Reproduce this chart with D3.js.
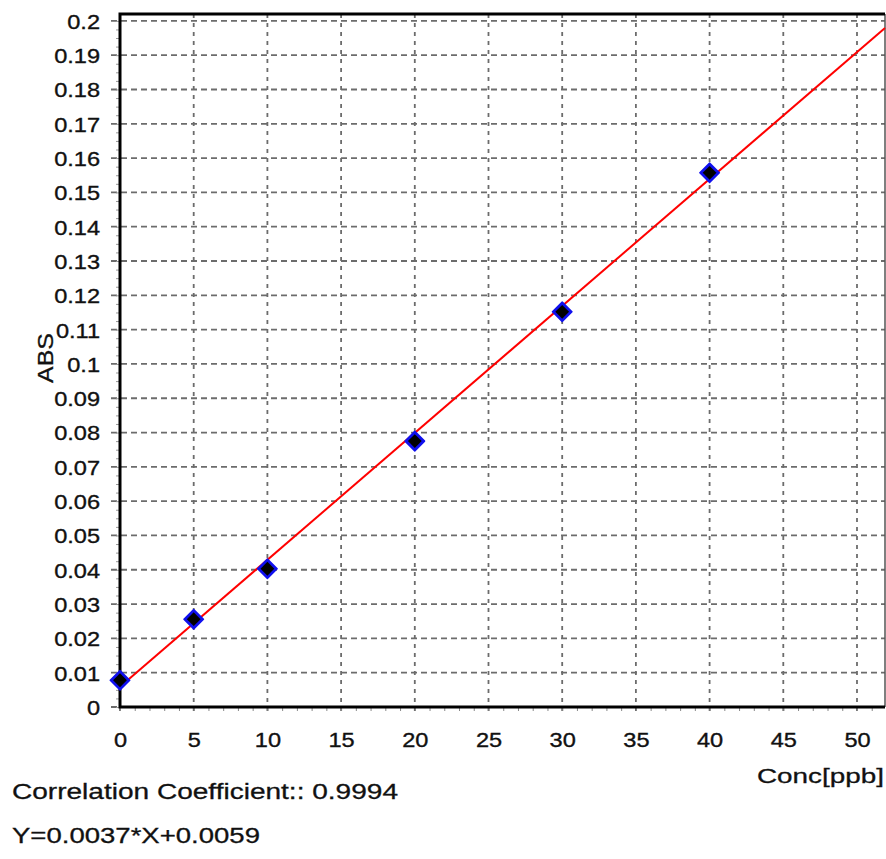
<!DOCTYPE html>
<html>
<head>
<meta charset="utf-8">
<script src="https://cdn.jsdelivr.net/npm/d3@7"></script>
<style>
  body { margin: 0; background: #fff; }
  text { font-family: "Liberation Sans", Arial, sans-serif; fill: #111; }
</style>
</head>
<body>
<svg id="chart" width="886" height="859"></svg>
<script>
// calibration points
var concValues = [0, 5, 10, 20, 30, 40];
var absValues = [0.0078, 0.0256, 0.0403, 0.0775, 0.1152, 0.1557];
var xTicks = [0, 5, 10, 15, 20, 25, 30, 35, 40, 45, 50];
var yTicks = [0, 0.01, 0.02, 0.03, 0.04, 0.05, 0.06, 0.07, 0.08, 0.09, 0.1,
              0.11, 0.12, 0.13, 0.14, 0.15, 0.16, 0.17, 0.18, 0.19, 0.2];
var slope = 0.0037, intercept = 0.0059;
var corrCoef = "0.9994";

var svg = d3.select("#chart");
var plotLeft = 120, plotRight = 885, plotTop = 14, plotBottom = 707;
var stretch = 1.15;

var x = d3.scaleLinear().domain([0, 51.9]).range([plotLeft, plotRight]);
var y = d3.scaleLinear().domain([0, 0.202]).range([plotBottom, plotTop]);

// dashed grid
svg.append("g")
    .selectAll("line")
    .data(yTicks)
    .enter().append("line")
    .attr("x1", plotLeft - 9)
    .attr("x2", plotRight)
    .attr("y1", function(d) { return y(d); })
    .attr("y2", function(d) { return y(d); })
    .attr("stroke", "#6c6c6c")
    .attr("stroke-width", 1.8)
    .attr("stroke-dasharray", "6,4");

svg.append("g")
    .selectAll("line")
    .data(xTicks)
    .enter().append("line")
    .attr("x1", function(d) { return x(d); })
    .attr("x2", function(d) { return x(d); })
    .attr("y1", plotTop)
    .attr("y2", plotBottom + 9)
    .attr("stroke", "#6c6c6c")
    .attr("stroke-width", 1.8)
    .attr("stroke-dasharray", "4,5");

// minor ticks
svg.append("g")
    .attr("transform", "translate(0," + plotBottom + ")")
    .call(d3.axisBottom(x).tickValues(d3.range(0, 52, 1)).tickSize(4).tickFormat(""))
    .call(function(g) { g.select(".domain").remove(); })
    .selectAll("line").attr("stroke", "#888");

svg.append("g")
    .attr("transform", "translate(" + (plotLeft - 1) + ",0)")
    .call(d3.axisLeft(y).tickValues(d3.range(0, 0.2001, 0.0025)).tickSize(3).tickFormat(""))
    .call(function(g) { g.select(".domain").remove(); })
    .selectAll("line").attr("stroke", "#999");

// tick labels (the original font is a bit wider, so stretch it)
var yAxis = svg.append("g")
    .attr("transform", "translate(" + plotLeft + ",0)")
    .call(d3.axisLeft(y).tickValues(yTicks).tickSize(0).tickFormat(d3.format("~g")));
yAxis.select(".domain").remove();
yAxis.selectAll("text")
    .attr("font-size", 20.5)
    .attr("font-family", "Liberation Sans, Arial, sans-serif")
    .attr("fill", "#111")
    .attr("stroke", "#111")
    .attr("stroke-width", 0.35)
    .attr("x", -20 / stretch)
    .attr("dy", "0.36em")
    .attr("transform", "scale(" + stretch + ",1)");

var xAxis = svg.append("g")
    .attr("transform", "translate(0," + plotBottom + ")")
    .call(d3.axisBottom(x).tickValues(xTicks).tickSize(0));
xAxis.select(".domain").remove();
xAxis.selectAll("text")
    .attr("font-size", 20.5)
    .attr("font-family", "Liberation Sans, Arial, sans-serif")
    .attr("fill", "#111")
    .attr("stroke", "#111")
    .attr("stroke-width", 0.35)
    .attr("y", 40)
    .attr("dy", 0)
    .attr("transform", "scale(" + stretch + ",1)");

// frame
svg.append("line")
    .attr("x1", plotRight).attr("x2", plotRight)
    .attr("y1", plotTop).attr("y2", plotBottom)
    .attr("stroke", "#555").attr("stroke-width", 1.5);
svg.append("path")
    .attr("d", "M" + plotRight + "," + plotTop + "H" + plotLeft + "V" + plotBottom + "H" + plotRight)
    .attr("fill", "none")
    .attr("stroke", "#000")
    .attr("stroke-width", 3);

// fitted line
var fitX = [0, 51.9];
svg.append("path")
    .datum(fitX)
    .attr("fill", "none")
    .attr("stroke", "#f00")
    .attr("stroke-width", 2)
    .attr("d", d3.line()
        .x(function(d) { return x(d); })
        .y(function(d) { return y(slope * d + intercept); }));

// markers
var pts = concValues.map(function(c, i) { return [c, absValues[i]]; });
var marks = svg.append("g")
    .selectAll("g")
    .data(pts)
    .enter().append("g")
    .attr("transform", function(d) { return "translate(" + x(d[0]) + "," + y(d[1]) + ") rotate(45)"; });
marks.append("path")
    .attr("d", d3.symbol(d3.symbolSquare, 190))
    .attr("fill", "#1010ee")
    .attr("stroke", "#1010ee")
    .attr("stroke-width", 1.5)
    .attr("stroke-linejoin", "round");
marks.append("path")
    .attr("d", d3.symbol(d3.symbolSquare, 95))
    .attr("fill", "#000");

// labels
var labelStyle = function(t) {
    t.attr("fill", "#111").attr("stroke", "#111").attr("stroke-width", 0.3);
};

svg.append("text")
    .attr("x", 884).attr("y", 783)
    .attr("text-anchor", "end")
    .attr("font-size", 21)
    .attr("textLength", 127)
    .attr("lengthAdjust", "spacingAndGlyphs")
    .call(labelStyle)
    .text("Conc[ppb]");

svg.append("text")
    .attr("transform", "translate(53,358) rotate(-90)")
    .attr("text-anchor", "middle")
    .attr("font-size", 22)
    .attr("textLength", 50)
    .attr("lengthAdjust", "spacingAndGlyphs")
    .call(labelStyle)
    .text("ABS");

svg.append("text")
    .attr("x", 12).attr("y", 799)
    .attr("font-size", 22)
    .attr("textLength", 386)
    .attr("lengthAdjust", "spacingAndGlyphs")
    .call(labelStyle)
    .text("Correlation Coefficient:: " + corrCoef);

svg.append("text")
    .attr("x", 12).attr("y", 843)
    .attr("font-size", 22)
    .attr("textLength", 248)
    .attr("lengthAdjust", "spacingAndGlyphs")
    .call(labelStyle)
    .text("Y=" + slope + "*X+" + intercept);
</script>
</body>
</html>
